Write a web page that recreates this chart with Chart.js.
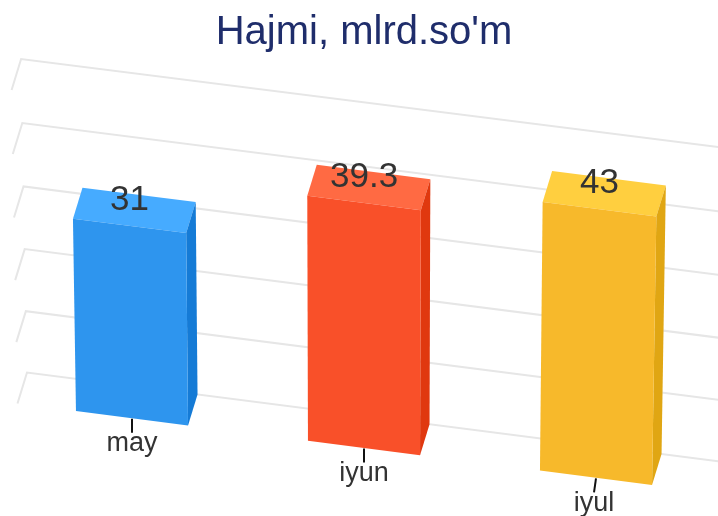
<!DOCTYPE html>
<html>
<head>
<meta charset="utf-8">
<style>
    html, body { margin: 0; padding: 0; background: #fff; }
    canvas { display: block; }
</style>
<script src="https://cdn.jsdelivr.net/npm/chart.js@4"></script>
</head>
<body>
<canvas id="volumeChart" width="718" height="516"></canvas>
<script>
var months = ['may', 'iyun', 'iyul'];
var volumes = [31, 39.3, 43];

// Face colours for each bar
var frontColours = ['#2E95EE', '#F95029', '#F7B92B'];
var topColours = ['#46ABFF', '#FF6A43', '#FFCF3F'];
var sideColours = ['#157BD6', '#E0380F', '#E0A613'];

var FONT = '"Liberation Sans", Arial, sans-serif';

// The chart's flat plot area is tilted on to the page by this projection
var view = {
    slope: 0.1285,      // floor falls to the right
    slopeFrom: 76,
    lean: 0.000055,     // verticals fan out from leanFrom
    leanFrom: 360,
    stretch: 0.000091,  // higher values are slightly nearer
    depthX: 9.5,
    depthY: -31
};

function project(chart, px, py, depth) {
    var base = chart.scales.y.bottom;
    var h = base - py;
    var tall = h * (1 + h * view.stretch);
    return {
        x: px + tall * view.lean * (px - view.leanFrom) + depth * view.depthX,
        y: base + (px - view.slopeFrom) * view.slope - tall + depth * view.depthY
    };
}

function face(ctx, points, colour) {
    ctx.beginPath();
    points.forEach(function (p, i) {
        if (i === 0) {
            ctx.moveTo(p.x, p.y);
        } else {
            ctx.lineTo(p.x, p.y);
        }
    });
    ctx.closePath();
    ctx.fillStyle = colour;
    ctx.fill();
}

var tilted3d = {
    id: 'tilted3d',
    // Left wall and back wall lines
    beforeDatasetsDraw: function (chart) {
        var ctx = chart.ctx, x = chart.scales.x, y = chart.scales.y;
        var wallX = x.left + 1.5;
        ctx.save();
        ctx.strokeStyle = '#E6E6E6';
        ctx.lineWidth = 2;
        y.ticks.forEach(function (tick) {
            var py = y.getPixelForValue(tick.value);
            var a = project(chart, wallX, py, 0);
            var b = project(chart, wallX, py, 1);
            var c = project(chart, x.right, py, 1);
            ctx.beginPath();
            ctx.moveTo(a.x, a.y);
            ctx.lineTo(b.x, b.y);
            ctx.lineTo(c.x, c.y);
            ctx.stroke();
        });
        ctx.restore();
    },
    // Replace the flat bars by boxes
    beforeDatasetDraw: function (chart, args) {
        var ctx = chart.ctx;
        args.meta.data.forEach(function (bar, i) {
            var l = bar.x - bar.width / 2, r = bar.x + bar.width / 2;
            var top = bar.y, base = bar.base;
            face(ctx, [project(chart, l, top, 1), project(chart, r, top, 1),
                project(chart, r, top, 0), project(chart, l, top, 0)], topColours[i]);
            face(ctx, [project(chart, r, top, 0), project(chart, r, top, 1),
                project(chart, r, base, 1), project(chart, r, base, 0)], sideColours[i]);
            face(ctx, [project(chart, l, top, 0), project(chart, r, top, 0),
                project(chart, r, base, 0), project(chart, l, base, 0)], frontColours[i]);
        });
        return false;
    },
    // Value labels, axis ticks and month labels follow the tilted floor
    afterDatasetsDraw: function (chart) {
        var ctx = chart.ctx, x = chart.scales.x, y = chart.scales.y;
        var bars = chart.getDatasetMeta(0).data;
        ctx.save();
        ctx.textAlign = 'center';
        ctx.textBaseline = 'alphabetic';
        ctx.fillStyle = '#333333';
        ctx.font = '35px ' + FONT;
        bars.forEach(function (bar, i) {
            var p = project(chart, bar.x, bar.y, 0);
            ctx.fillText(String(volumes[i]), p.x, p.y - 16);
        });
        ctx.font = '27px ' + FONT;
        months.forEach(function (month, i) {
            var px = x.getPixelForValue(i);
            var p = project(chart, px, y.bottom, 0);
            var tickLean = Math.max(0, px - 364) * 0.0085;
            ctx.strokeStyle = '#111111';
            ctx.lineWidth = 2;
            ctx.beginPath();
            ctx.moveTo(p.x, p.y + 0.5);
            ctx.lineTo(p.x - tickLean, p.y + 14.5);
            ctx.stroke();
            ctx.fillText(month, p.x - tickLean, p.y + 33);
        });
        ctx.restore();
    }
};

var volumeChart = new Chart(document.getElementById('volumeChart').getContext('2d'), {
    type: 'bar',
    data: {
        labels: months,
        datasets: [{
            label: 'Hajmi',
            data: volumes,
            backgroundColor: frontColours,
            barPercentage: 0.483,
            categoryPercentage: 1
        }]
    },
    options: {
        responsive: false,
        animation: false,
        layout: {
            padding: { left: 16, right: 6, top: 0, bottom: 105 }
        },
        plugins: {
            legend: { display: false },
            tooltip: { enabled: false },
            title: {
                display: true,
                text: "Hajmi, mlrd.so'm",
                color: '#1F2D6B',
                font: { family: FONT, size: 40, weight: 'normal', lineHeight: 1.2 },
                padding: { top: 9, bottom: 49 }
            }
        },
        scales: {
            x: { display: false },
            y: { display: false, min: 0, max: 50, ticks: { stepSize: 10 } }
        }
    },
    plugins: [tilted3d]
});
</script>
</body>
</html>
